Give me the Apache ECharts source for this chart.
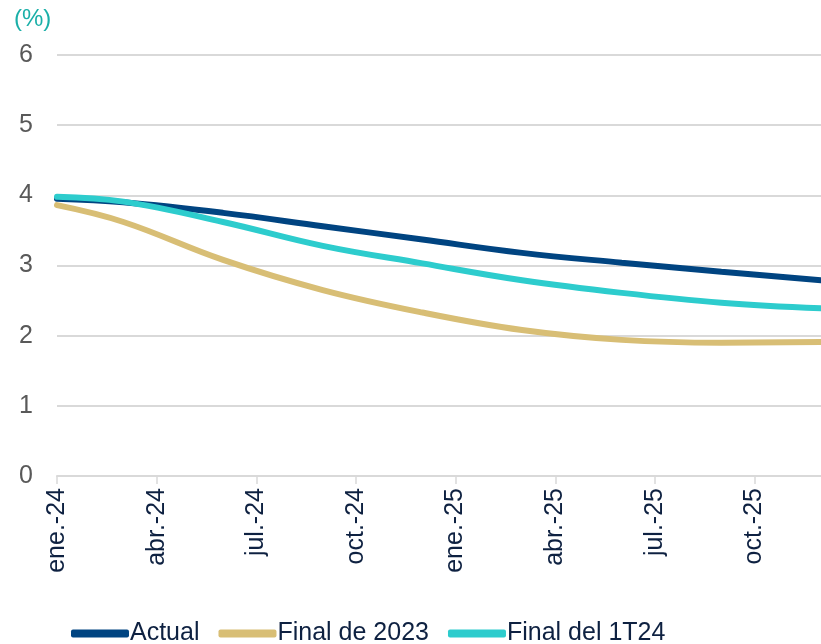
<!DOCTYPE html>
<html>
<head>
<meta charset="utf-8">
<script src="https://cdn.jsdelivr.net/npm/echarts@6/dist/echarts.min.js"></script>
<style>html,body{margin:0;padding:0;background:#fff}#c{width:821px;height:644px}</style>
</head>
<body>
<div id="c"></div>
<script>
var months = ['ene.-24','feb.-24','mar.-24','abr.-24','may.-24','jun.-24','jul.-24','ago.-24','sep.-24','oct.-24','nov.-24','dic.-24',
              'ene.-25','feb.-25','mar.-25','abr.-25','may.-25','jun.-25','jul.-25','ago.-25','sep.-25','oct.-25','nov.-25','dic.-25'];
var actual   = [3.95,null,3.90,null,null,3.75,null,null,3.56,null,null,3.37,null,null,3.18,null,null,3.04,null,null,2.91,null,null,2.79];
var final2023= [3.86,null,3.62,null,null,3.08,null,null,2.65,null,null,2.33,null,null,2.08,null,null,1.94,null,null,1.90,null,null,1.91];
var final1T24= [3.98,null,3.91,null,null,3.62,null,null,3.28,null,null,3.03,null,null,2.79,null,null,2.61,null,null,2.47,null,null,2.39];
var yTicks = [0,1,2,3,4,5,6];

var chart = echarts.init(document.getElementById('c'));
var font = 'Liberation Sans, Arial, sans-serif';
function mk(name, data, color){
  return {name:name, type:'line', data:data, smooth:0.4, connectNulls:true, showSymbol:false, symbol:'none',
          lineStyle:{width:6, color:color, cap:'round'}, itemStyle:{color:color}};
}
chart.setOption({
  animation:false,
  textStyle:{fontFamily:font},
  grid:{left:57, right:0, top:55, bottom:168, containLabel:false},
  graphic:[{type:'text', left:14, top:7, style:{text:'(%)', fill:'#1AAFA8', font:'24px Liberation Sans, Arial, sans-serif'}}],
  legend:{bottom:-7, left:66, itemWidth:58, itemHeight:8, itemGap:19, icon:'roundRect',
          textStyle:{fontSize:25, color:'#0E2141', fontFamily:font, padding:[0,0,0,-4]},
          data:['Actual','Final de 2023','Final del 1T24']},
  xAxis:{type:'category', data:months, boundaryGap:false,
         axisLine:{lineStyle:{color:'#D9D9D9', width:2}},
         axisTick:{show:true, interval:2, length:8, lineStyle:{color:'#D9D9D9', width:1.5}},
         axisLabel:{interval:2, rotate:90, fontSize:25, color:'#0E2141', margin:12, fontFamily:font},
         splitLine:{show:false}},
  yAxis:{type:'value', min:0, max:6, interval:1,
         axisLine:{show:false}, axisTick:{show:false},
         axisLabel:{fontSize:25, color:'#595959', margin:24, fontFamily:font, formatter:function(v){return yTicks.indexOf(v)>=0?String(v):'';}},
         splitLine:{lineStyle:{color:'#D9D9D9', width:2}}},
  series:[mk('Actual',actual,'#004481'), mk('Final de 2023',final2023,'#D8BE75'), mk('Final del 1T24',final1T24,'#2DCCCD')]
});
</script>
</body>
</html>
